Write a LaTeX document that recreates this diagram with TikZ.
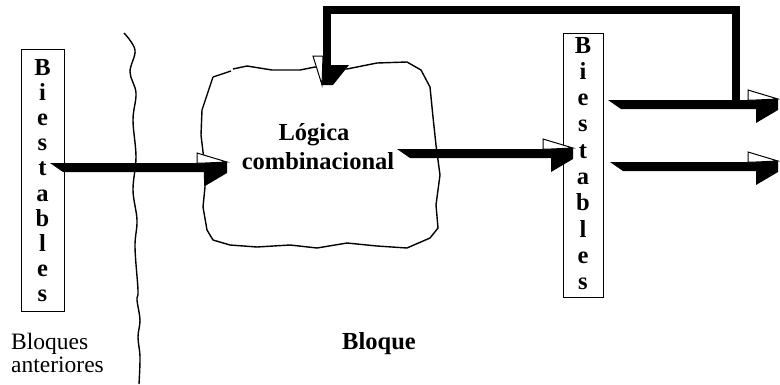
\documentclass[tikz,border=0pt]{standalone}
\usepackage{fontspec}
\setmainfont{Liberation Serif}
\tikzset{
  txt/.style={inner sep=0pt, font=\fontsize{23.5}{26}\selectfont},
  btxt/.style={inner sep=0pt, font=\fontsize{24.5}{27}\selectfont\bfseries},
  boxstyle/.style={draw, line width=1.3pt, inner sep=0pt},
  outline/.style={line width=1.4pt, line join=round},
  facet/.style={fill=white, draw=black, line width=1pt, line join=miter}
}
% rightward 3D arrow: x1 (tail), x2 (tip), y (top of shaft)
\newcommand{\rarr}[3]{%
  \fill (#1,#3) -- ({#2-22},#3) -- (#2,{#3-1}) -- (#2,{#3+10}) -- ({#2-22},{#3+23}) -- ({#2-22},{#3+9}) -- ({#1+13},{#3+9}) -- cycle;
  \filldraw[facet] ({#2-30},{#3-10}) -- (#2,{#3-1}) -- ({#2-22},#3) -- ({#2-30},#3) -- cycle;
}
\begin{document}
\begin{tikzpicture}[x=1pt,y=-1pt]
\useasboundingbox (0,0) rectangle (780,384);

% boxes
\node[boxstyle, minimum width=43pt, minimum height=262pt, anchor=north west] (bl) at (21,49) {};
\node[boxstyle, minimum width=40pt, minimum height=264pt, anchor=north west] (br) at (563,33) {};
\foreach \l [count=\i from 0] in {B,i,e,s,t,a,b,l,e,s}
  \node[btxt, anchor=base] (bl\i) at (42.5,{75+25.2*\i}) {\l};
\foreach \l [count=\i from 0] in {B,i,e,s,t,a,b,l,e,s}
  \node[btxt, anchor=base] (br\i) at (583,{53+26.3*\i}) {\l};

% wavy boundary line
\draw[outline] plot[smooth, tension=0.6] coordinates {(124,33) (135,50) (130,72) (136,93) (133,120) (136,157) (133,190) (137,220) (135,247) (138,290) (137,300) (140,320) (138,337) (140,357) (139,384)};

% cloud
\draw[outline] (213,77) -- (231,71) (233,69) -- (247,66) -- (272,70) -- (300,70) -- (315,67) -- (347,69) -- (377,63) -- (407,62) -- (421,70) -- (430,87) -- (433,117) -- (436,145) -- (440,175) -- (436,205) -- (438,228) -- (430,238) -- (407,248) -- (377,246) -- (347,243) -- (317,248) -- (290,245) -- (257,247) -- (230,245) -- (213,240) -- (207,230) -- (203,207) -- (205,187) -- (204,160) -- (201,135) -- (202,110) -- (213,77);
\coordinate (cloud) at (320,155);

% texts
\node[btxt, anchor=base] (t1) at (314,140) {Lógica};
\node[btxt, anchor=base] (t2) at (318,169) {combinacional};
\node[txt, anchor=base west] (t3) at (11,349) {Bloques};
\node[txt, anchor=base west] (t4) at (11,372) {anteriores};
\node[btxt, anchor=base] (t5) at (379,349) {Bloque};

% feedback path
\draw[line width=8pt, line join=miter] (736,104) -- (736,10) -- (327,10) -- (327,65);
\fill (323,65) -- (349,65) -- (333,85) -- (322,85) -- cycle;
\filldraw[facet] (313,56) -- (323,56) -- (322,85) -- cycle;

% arrows
\rarr{50}{227}{163}
\rarr{397}{573}{149}
\rarr{608}{778}{100}
\rarr{610}{778}{162}
\end{tikzpicture}
\end{document}
